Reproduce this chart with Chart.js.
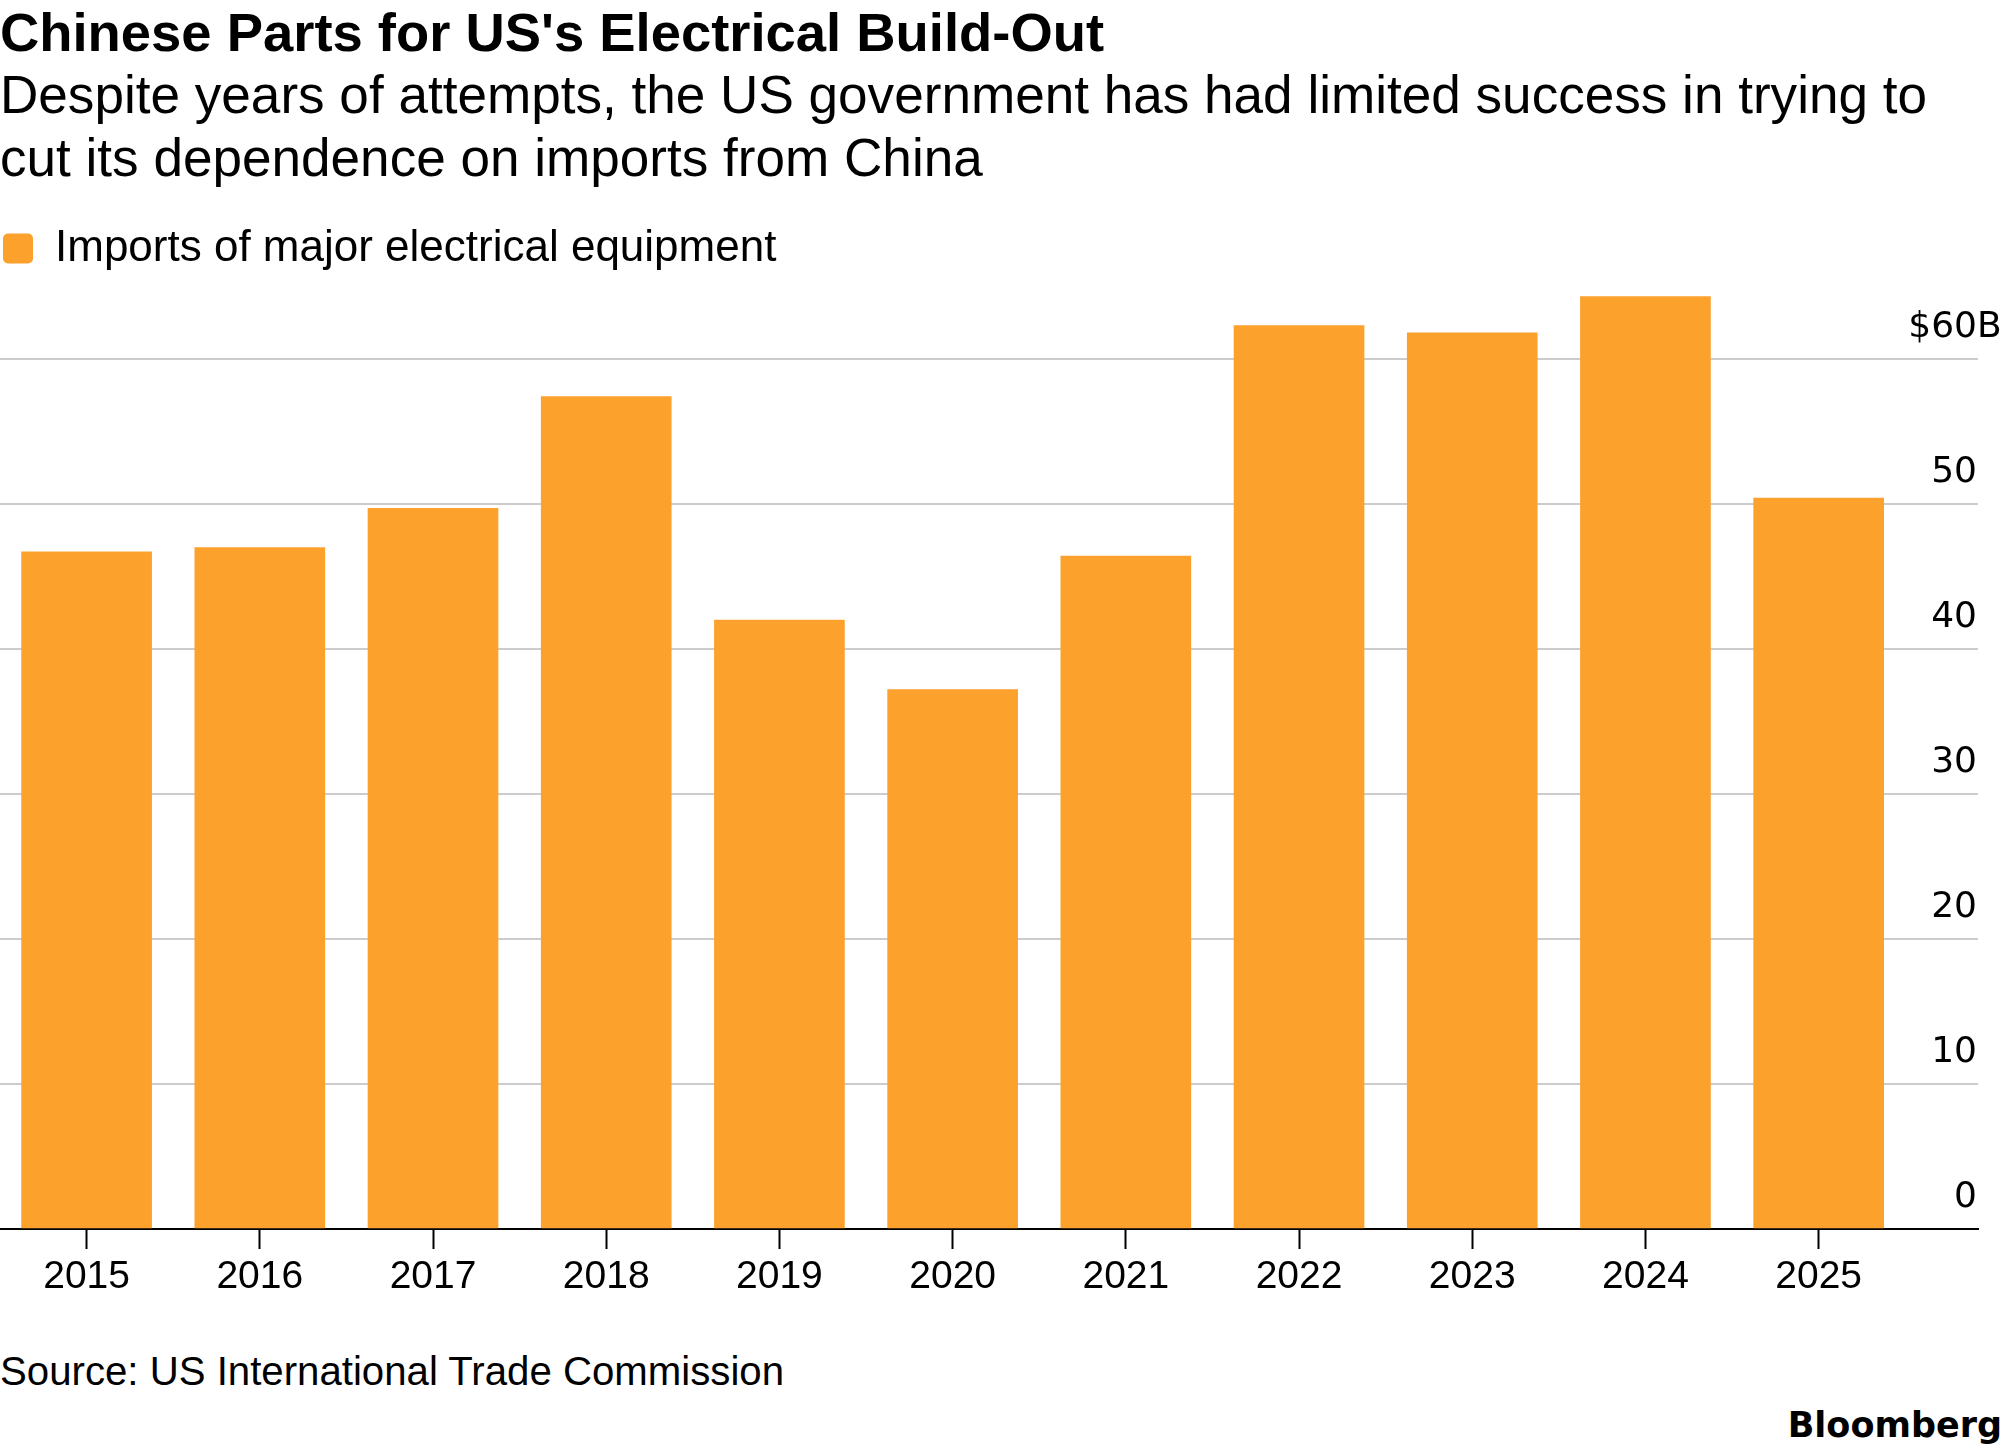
<!DOCTYPE html>
<html>
<head>
<meta charset="utf-8">
<script src="https://cdn.jsdelivr.net/npm/chart.js@4.4.1/dist/chart.umd.min.js"></script>
<style>
  body { margin: 0; background: #fff; width: 2005px; height: 1455px; position: relative; overflow: hidden;
         font-family: "Liberation Sans", Arial, sans-serif; color: #000; }
  .t { position: absolute; left: 0; white-space: nowrap; }
  #title { top: 6px; font-size: 54.4px; font-weight: bold; line-height: 54px; }
  #sub { top: 63px; font-size: 53.1px; line-height: 63px; }
  #source { top: 1352px; font-size: 40.2px; line-height: 40px; }
  #logo { position: absolute; right: 3px; top: 1408px; font-family: "DejaVu Sans"; font-weight: bold;
          font-size: 35px; line-height: 35px; }
  #chart { position: absolute; left: 0; top: 200px; }
</style>
</head>
<body>
<div class="t" id="title">Chinese Parts for US's Electrical Build-Out</div>
<div class="t" id="sub">Despite years of attempts, the US government has had limited success in trying to<br>cut its dependence on imports from China</div>
<canvas id="chart" width="2005" height="1110"></canvas>
<div class="t" id="source">Source: US International Trade Commission</div>
<div id="logo">Bloomberg</div>
<script>
// data, $ billions
const years = [2015, 2016, 2017, 2018, 2019, 2020, 2021, 2022, 2023, 2024, 2025];
const imports = [46.7, 47.0, 49.7, 57.4, 42.0, 37.2, 46.4, 62.3, 61.8, 64.3, 50.4];
const yTicks = [0, 10, 20, 30, 40, 50, 60];
const seriesName = 'Imports of major electrical equipment';

const orange = '#FCA12C';

// "$60B": the B hangs past the right edge of the number column
const unitSuffix = {
  id: 'unitSuffix',
  afterDraw(chart) {
    const y = chart.scales.y;
    const c = chart.ctx;
    c.save();
    c.font = '36px "DejaVu Sans"';
    c.fillStyle = '#000';
    c.textAlign = 'left';
    c.textBaseline = 'middle';
    c.fillText('B', chart.chartArea.right - 1, y.getPixelForValue(60) - 31);
    c.restore();
  }
};

const ctx = document.getElementById('chart');
new Chart(ctx, {
  type: 'bar',
  data: {
    datasets: [{
      label: seriesName,
      data: years.map((yr, i) => ({ x: yr, y: imports[i] })),
      backgroundColor: orange,
      borderWidth: 0,
      barThickness: 130
    }]
  },
  plugins: [unitSuffix],
  options: {
    responsive: false,
    animation: false,
    events: [],
    layout: { padding: { top: 23.5, right: 27, bottom: 0, left: 0 } },
    plugins: {
      tooltip: { enabled: false },
      legend: {
        position: 'top',
        align: 'start',
        labels: {
          boxWidth: 30,
          boxHeight: 30,
          padding: 3,
          useBorderRadius: true,
          borderRadius: 5,
          color: '#000',
          font: { family: 'Liberation Sans', size: 44 }
        }
      }
    },
    scales: {
      x: {
        type: 'linear',
        offset: false,
        min: 2014.5,
        max: 2025.92,
        afterBuildTicks: s => { s.ticks = years.map(v => ({ value: v })); },
        afterFit: s => { s.height = 81; },
        grid: { offset: false, drawOnChartArea: false, drawTicks: true, tickLength: 20, tickWidth: 2, tickColor: '#000' },
        border: { display: true, color: '#000', width: 2 },
        ticks: {
          autoSkip: false,
          maxRotation: 0,
          padding: 5,
          color: '#000',
          font: { family: 'Liberation Sans', size: 39 },
          callback: v => String(v)
        }
      },
      y: {
        position: 'right',
        min: 0,
        max: 65.41,
        afterBuildTicks: s => { s.ticks = yTicks.map(v => ({ value: v })); },
        grid: {
          drawTicks: false,
          lineWidth: 2,
          color: c => c.tick && c.tick.value === 0 ? 'rgba(0,0,0,0)' : '#cccccc'
        },
        border: { display: false },
        ticks: {
          mirror: true,
          padding: -1,
          labelOffset: -31,
          color: '#000',
          font: { family: 'DejaVu Sans', size: 36 },
          callback: v => v === 60 ? '$60' : String(v)
        }
      }
    }
  }
});
</script>
</body>
</html>
